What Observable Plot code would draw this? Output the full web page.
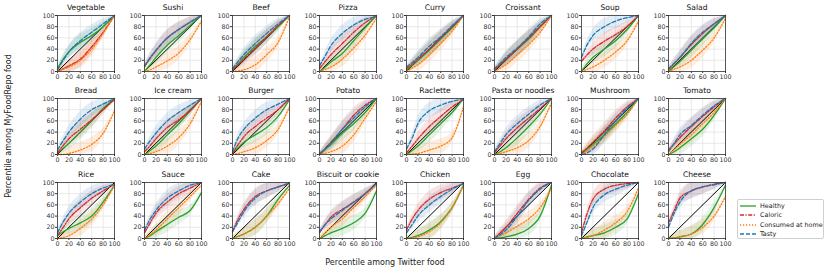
<!DOCTYPE html>
<html><head><meta charset="utf-8">
<script src="https://cdn.jsdelivr.net/npm/d3@7"></script>
<script src="https://cdn.jsdelivr.net/npm/@observablehq/plot@0.6"></script>
<style>
body{margin:0;background:#fff;font-family:"DejaVu Sans",sans-serif;}
#wrap{position:relative;width:830px;height:273px;overflow:hidden;}
.panel{position:absolute;}
.lab{position:absolute;font-size:8px;color:#222;white-space:nowrap;}
#legend{position:absolute;left:737px;top:199px;width:87px;height:40px;border:1px solid #d0d0d0;border-radius:2px;box-sizing:border-box;font-size:6.4px;color:#222;}
#legend .it{position:absolute;left:2px;height:8px;display:flex;align-items:center;}
#legend svg{margin-right:4px;}
</style></head><body><div id="wrap"></div>
<script>
const foods = ["Vegetable","Sushi","Beef","Pizza","Curry","Croissant","Soup","Salad",
  "Bread","Ice cream","Burger","Potato","Raclette","Pasta or noodles","Mushroom","Tomato",
  "Rice","Sauce","Cake","Biscuit or cookie","Chicken","Egg","Chocolate","Cheese"];
const xs = [0,10,20,40,60,80,100];
const ticks = [0,20,40,60,80,100];
const healthy = [
  [5,22,35,52,64,80,100],[0,12,25,47,64,82,100],[3,14,25,45,62,80,100],[0,8,17,32,55,78,100],
  [2,11,20,38,58,78,100],[3,12,22,40,58,80,100],[0,14,25,40,55,75,100],[0,9,18,38,58,78,100],
  [2,11,20,40,60,82,100],[0,7,15,35,55,78,100],[3,12,22,35,48,68,98],[0,9,18,38,55,75,100],
  [0,7,15,35,55,75,100],[0,5,12,30,50,72,100],[2,10,18,35,55,75,100],[0,5,12,28,45,70,100],
  [5,12,18,28,40,65,95],[0,5,12,25,38,50,82],[0,4,8,20,40,70,95],[0,5,10,18,28,45,85],
  [0,2,5,15,30,55,95],[0,1,3,8,18,40,95],[0,3,5,10,20,35,80],[0,1,3,8,25,55,95]];
const caloric = [
  [0,5,10,22,44,70,100],[8,24,37,60,75,88,100],[2,12,22,42,62,82,100],[5,18,30,50,70,87,100],
  [5,13,22,40,60,80,100],[3,12,22,40,60,80,100],[18,30,40,54,66,80,100],[3,14,25,48,68,85,100],
  [3,16,28,45,62,80,98],[5,16,28,48,62,78,100],[2,18,32,50,65,80,100],[0,11,22,45,70,88,100],
  [3,15,28,50,68,85,98],[3,16,28,48,65,82,100],[3,12,22,42,65,85,100],[8,19,30,50,68,85,100],
  [5,20,35,55,72,85,97],[10,28,45,65,80,90,100],[12,35,52,75,85,92,98],[10,25,38,52,65,80,98],
  [15,35,50,70,82,90,98],[0,10,20,45,70,90,100],[10,45,70,88,95,98,100],[28,50,72,85,92,97,100]];
const home = [
  [0,4,8,20,40,68,100],[0,3,8,19,33,57,90],[0,1,3,12,30,52,98],[0,4,8,22,42,65,95],
  [0,6,12,30,50,72,100],[0,6,12,30,48,70,100],[0,4,8,20,35,55,90],[0,4,8,20,38,60,95],
  [0,0,2,8,18,38,78],[0,2,5,15,30,55,95],[0,2,5,12,25,45,85],[0,2,5,15,35,65,95],
  [0,1,2,8,15,30,85],[0,2,5,12,25,50,92],[0,7,15,32,52,72,100],[0,9,18,35,55,75,100],
  [0,2,5,18,35,60,95],[0,7,15,35,55,75,95],[0,4,8,20,40,62,90],[0,10,20,35,55,75,95],
  [0,1,3,12,28,55,95],[0,5,10,22,35,55,90],[0,2,5,15,28,48,90],[0,1,3,8,20,40,75]];
const tasty = [
  [3,20,35,55,70,85,100],[10,25,38,60,75,88,100],[5,18,30,50,68,85,100],[10,28,46,68,83,93,98],
  [8,16,25,45,62,82,100],[5,15,25,42,62,85,100],[25,48,64,80,90,96,100],[5,15,25,50,70,85,100],
  [8,25,40,63,80,90,100],[10,25,38,60,75,88,100],[5,30,45,65,80,90,100],[2,10,20,45,65,85,100],
  [10,30,55,78,88,95,98],[5,20,35,55,72,88,100],[0,3,10,35,60,82,100],[5,20,35,52,70,87,100],
  [10,30,45,65,80,90,97],[15,35,50,72,85,95,100],[12,30,48,72,85,92,100],[12,25,35,50,65,80,98],
  [10,25,40,60,75,88,98],[0,7,15,40,68,88,100],[5,30,55,78,88,95,100],[20,45,65,85,92,96,100]];
// approximate half-width of the shaded bands at each x position
const band = [3,8,11,14,13,9,2];

const seriesNames = ["Healthy","Caloric","Consumed at home","Tasty"];
const seriesValues = [healthy, caloric, home, tasty];
const seriesColors = ["#2ca02c","#d62728","#ff7f0e","#1f77b4"];
const seriesDash = [null,"4,1.5,1.2,1.5","1.2,1.8","4,2"];

const wrap = document.getElementById("wrap");
const PW = 57, PH = 56, ML = 22, MR = 8, MT = 14, MB = 14;
foods.forEach((food, i) => {
  const c = i % 8, r = Math.floor(i / 8);
  const marks = [
    Plot.gridX(ticks, {stroke: "#e2e2e2", strokeOpacity: 1, strokeWidth: 0.8}),
    Plot.gridY(ticks, {stroke: "#e2e2e2", strokeOpacity: 1, strokeWidth: 0.8})
  ];
  seriesNames.forEach((name, s) => {
    const rows = seriesValues[s][i].map((v, k) => ({x: xs[k], y: v,
      lo: Math.max(0, v - band[k]), hi: Math.min(100, v + band[k])}));
    marks.push(Plot.areaY(rows, {x: "x", y1: "lo", y2: "hi", fill: seriesColors[s], fillOpacity: 0.13, curve: "monotone-x"}));
  });
  marks.push(Plot.line([[0,0],[100,100]], {stroke: "black", strokeWidth: 1}));
  seriesNames.forEach((name, s) => {
    const rows = seriesValues[s][i].map((v, k) => ({x: xs[k], y: v}));
    marks.push(Plot.line(rows, {x: "x", y: "y", stroke: seriesColors[s], strokeWidth: 1.3,
      strokeDasharray: seriesDash[s], curve: "monotone-x"}));
  });
  marks.push(Plot.frame({stroke: "#333", strokeWidth: 0.8}));
  marks.push(Plot.text([food], {text: d => d, frameAnchor: "top", lineAnchor: "middle", dy: -7.5, fontSize: 7.6, fill: "#111"}));
  const svg = Plot.plot({
    width: PW + ML + MR, height: PH + MT + MB,
    marginLeft: ML, marginRight: MR, marginTop: MT, marginBottom: MB,
    x: {domain: [0,100], ticks, tickSize: 2, tickPadding: 1, label: null},
    y: {domain: [0,100], ticks, tickSize: 2, tickPadding: 1, label: null},
    style: {fontSize: "6.3px", fontFamily: "DejaVu Sans", color: "#333", background: "transparent", overflow: "visible"},
    marks
  });
  svg.classList.add("panel");
  svg.style.left = (57 + c * 87.33 - ML) + "px";
  svg.style.top = (14.5 + r * 83.8 - MT) + "px";
  wrap.appendChild(svg);
});

const xl = document.createElement("div");
xl.className = "lab"; xl.textContent = "Percentile among Twitter food";
xl.style.left = "385px"; xl.style.top = "258px"; xl.style.transform = "translateX(-50%)";
wrap.appendChild(xl);
const yl = document.createElement("div");
yl.className = "lab"; yl.textContent = "Percentile among MyFoodRepo food";
yl.style.left = "8px"; yl.style.top = "126px"; yl.style.transform = "translate(-50%,-50%) rotate(-90deg)";
wrap.appendChild(yl);

const lg = document.createElement("div");
lg.id = "legend";
seriesNames.forEach((name, s) => {
  const it = document.createElement("div");
  it.className = "it"; it.style.top = (2 + s * 9.3) + "px";
  it.innerHTML = `<svg width="16" height="4"><line x1="0" y1="2" x2="16" y2="2" stroke="${seriesColors[s]}" stroke-width="1.3" ${seriesDash[s] ? `stroke-dasharray="${seriesDash[s]}"` : ""}/></svg><span>${name}</span>`;
  lg.appendChild(it);
});
wrap.appendChild(lg);
</script></body></html>
